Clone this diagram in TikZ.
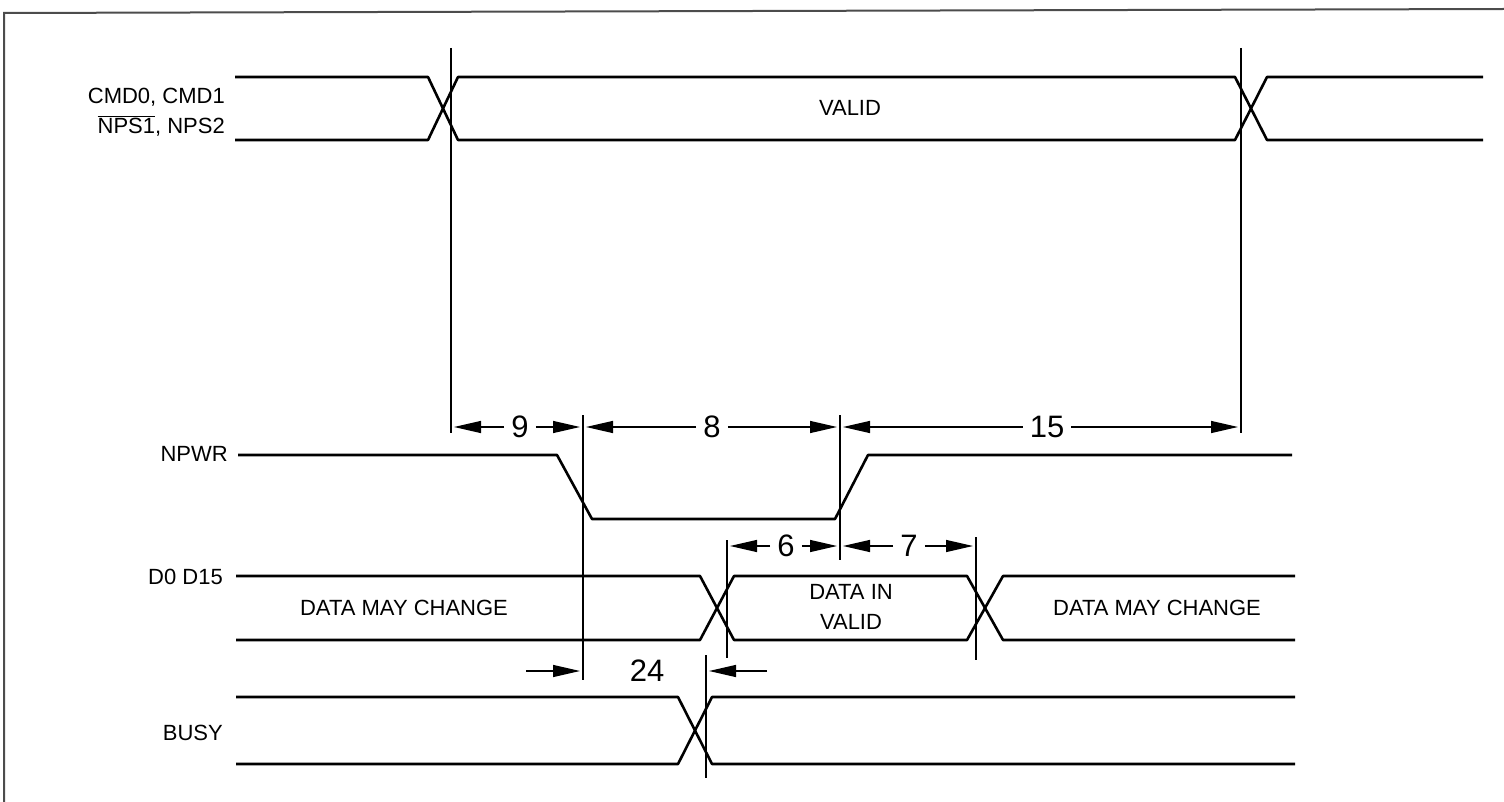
\documentclass[tikz,border=0pt]{standalone}
\usepackage{fontspec}
\setmainfont{Liberation Sans}
\usetikzlibrary{arrows.meta,positioning}

\tikzset{
  wave/.style={line width=2.6pt, line join=round},
  guide/.style={line width=1.5pt},
  frame/.style={line width=2pt, black!70},
  dimarr/.style={-{Triangle[length=27pt,width=12pt]}, line width=1.3pt, shorten >=3pt},
  sig/.style={font=\fontsize{22}{24}\selectfont, anchor=east, inner sep=0pt},
  txt/.style={font=\fontsize{22}{30}\selectfont, inner sep=0pt, align=center},
  num/.style={font=\fontsize{31}{31}\selectfont, inner sep=7pt},
}

\begin{document}
\begin{tikzpicture}[x=1pt, y=-1pt]
	\useasboundingbox (0,0) rectangle (1504,802);
	% frame
	\draw [frame] (4,802) -- (4,13) -- (1504,9);
	% signal names
	\node[sig] (cmd) at (225,97) {CMD0, CMD1};
	\node[sig] (nps) at (225,126) {$\overline{\mbox{NPS1}}$, NPS2};
	\node[sig] (npwr) at (228,454) {NPWR};
	\node[sig] (data) at (223,577) {D0 D15};
	\node[sig] (busy) at (223,733) {BUSY};
	% CMD0, CMD1 / NPS1, NPS2
	\draw [wave] (235,77) -- (428,77) -- (458,140) -- (1235,140) -- (1267,77) -- (1483,77);
	\draw [wave] (235,140) -- (428,140) -- (458,77) -- (1235,77) -- (1267,140) -- (1483,140);
	\node[txt] (valid) at (850,108) {VALID};
	% NPWR
	\draw [wave] (238,455) -- (557,455) -- (592,519) -- (835,519) -- (868,455) -- (1292,455);
	% D0 D15
	\draw [wave] (236,576) -- (700,576) -- (734,640) -- (967,640) -- (1003,576) -- (1295,576);
	\draw [wave] (236,640) -- (700,640) -- (734,576) -- (967,576) -- (1003,640) -- (1295,640);
	\node[txt] (chg1) at (404,608) {DATA MAY CHANGE};
	\node[txt] (din) at (851,607) {DATA IN\\VALID};
	\node[txt] (chg2) at (1157,608) {DATA MAY CHANGE};
	% BUSY
	\draw [wave] (236,697) -- (678,697) -- (712,764) -- (1295,764);
	\draw [wave] (236,764) -- (678,764) -- (712,697) -- (1295,697);
	% reference lines
	\coordinate (cmdA) at (451,48);
	\coordinate (cmdB) at (1241,48);
	\coordinate (wrF) at (583,415);
	\coordinate (wrR) at (840,415);
	\coordinate (dV) at (727,540);
	\coordinate (dX) at (976,537);
	\coordinate (bsy) at (706,655);
	\draw [guide] (cmdA) -- ++(0,385);
	\draw [guide] (cmdB) -- ++(0,385);
	\draw [guide] (wrF) -- ++(0,265);
	\draw [guide] (wrR) -- ++(0,145);
	\draw [guide] (dV) -- ++(0,118);
	\draw [guide] (dX) -- ++(0,123);
	\draw [guide] (bsy) -- ++(0,123);
	% timing labels
	\node[num] (t9) at (520,427) {9};
	\node[num] (t8) at (712,427) {8};
	\node[num] (t15) at (1047,427) {15};
	\node[num] (t6) at (786,546) {6};
	\node[num] (t7) at (909,546) {7};
	\node[num] (t24) at (647,671) {24};
	\coordinate (a24l) at (526,671);
	\coordinate (a24r) at (767,671);
	% timing arrows
	\draw [dimarr] (t9) -- (t9 -| cmdA);
	\draw [dimarr] (t9) -- (t9 -| wrF);
	\draw [dimarr] (t8) -- (t8 -| wrF);
	\draw [dimarr] (t8) -- (t8 -| wrR);
	\draw [dimarr] (t15) -- (t15 -| wrR);
	\draw [dimarr] (t15) -- (t15 -| cmdB);
	\draw [dimarr] (t6) -- (t6 -| dV);
	\draw [dimarr] (t6) -- (t6 -| wrR);
	\draw [dimarr] (t7) -- (t7 -| wrR);
	\draw [dimarr] (t7) -- (t7 -| dX);
	\draw [dimarr] (a24l) -- (a24l -| wrF);
	\draw [dimarr] (a24r) -- (a24r -| bsy);
\end{tikzpicture}
\end{document}
